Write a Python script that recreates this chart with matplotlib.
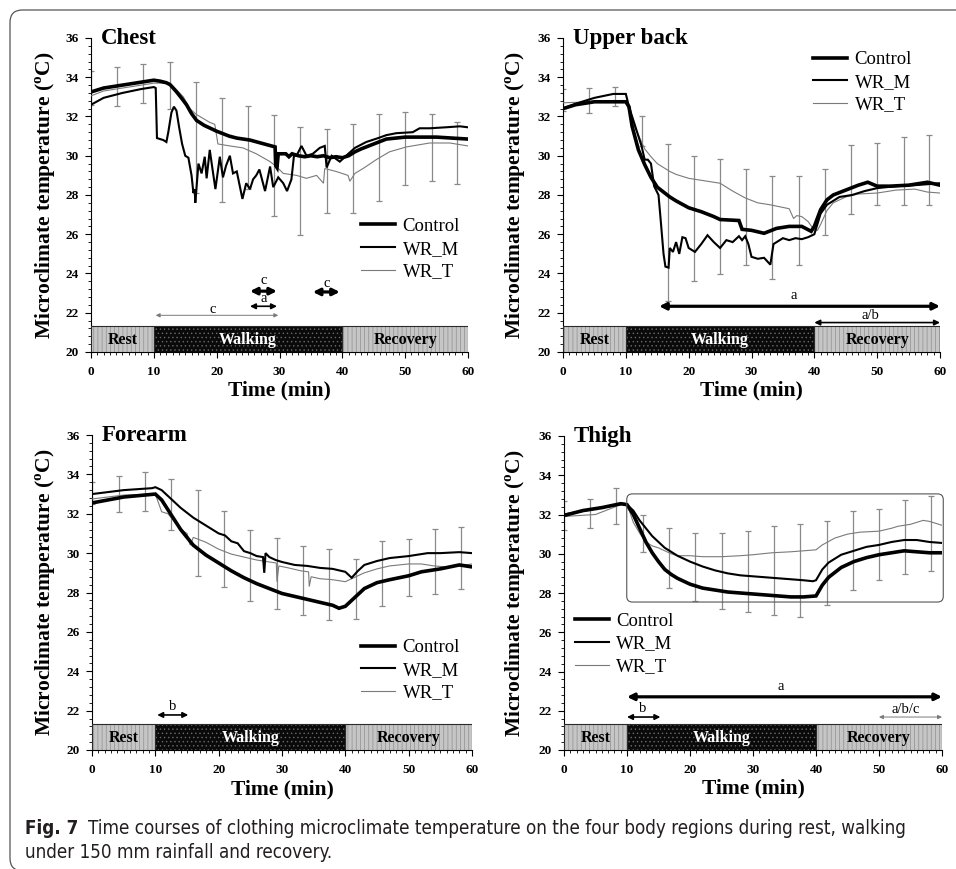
import matplotlib.pyplot as plt
from matplotlib import font_manager
from matplotlib.patches import FancyBboxPatch
from matplotlib.ticker import MultipleLocator

plt.rcParams['font.family'] = ['Liberation Serif', 'DejaVu Serif']
plt.rcParams['mathtext.fontset'] = 'custom'
plt.rcParams['mathtext.rm'] = 'Liberation Serif'
plt.rcParams['mathtext.bf'] = 'Liberation Serif:bold'
plt.rcParams['hatch.linewidth'] = 0.5

# ---------------- data ----------------
groups = ['Control', 'WR_M', 'WR_T']
phases = ['Rest', 'Walking', 'Recovery']
phase_start = [0, 10, 40]
phase_len = [10, 30, 20]

bar_t = [0, 4.2, 8.3, 12.5, 16.7, 20.8, 25, 29.2, 33.3, 37.5, 41.7, 45.8, 50, 54.2, 58.3]

# chest
chest_control = [(0, 33.25), (2, 33.45), (5, 33.6), (8, 33.75), (10, 33.85), (11, 33.8), (12, 33.72),
                 (12.6, 33.62), (13.5, 33.3), (14.5, 32.9), (15.2, 32.6), (16, 32.15), (16.8, 31.8),
                 (18, 31.55), (20, 31.25), (22, 31.0), (23.2, 30.9), (25.3, 30.8), (27, 30.65),
                 (29.3, 30.45), (29.4, 29.5), (29.6, 29.4), (29.8, 30.1), (31, 30.1), (31.5, 29.95),
                 (32, 30.1), (33, 30.0), (34, 29.95), (35, 30.0), (36, 29.95), (37, 30.0), (38, 29.9),
                 (39, 29.95), (40, 29.9), (41, 30.0), (42, 30.2), (43, 30.35), (45, 30.6), (47, 30.85),
                 (50, 30.95), (55, 30.95), (60, 30.85)]
chest_wrm = [(0, 32.6), (2, 32.95), (5, 33.2), (8, 33.4), (10, 33.5), (10.3, 33.45), (10.5, 30.9),
             (11, 30.85), (11.5, 30.8), (12, 30.7), (12.3, 31.2), (12.8, 32.2), (13.2, 32.5), (13.6, 32.3),
             (14, 31.5), (14.5, 30.6), (15, 30.0), (15.5, 29.9), (16, 29.0), (16.3, 28.1), (16.5, 28.3),
             (16.6, 27.6), (17.1, 29.6), (17.6, 29.1), (18.1, 29.95), (18.4, 28.85), (18.9, 30.3),
             (19.3, 29.4), (19.8, 28.3), (20.5, 29.95), (21.0, 28.9), (21.5, 29.5), (22.1, 30.0),
             (22.6, 29.1), (23.2, 29.2), (24.1, 27.8), (24.7, 28.6), (25.3, 28.3), (25.8, 28.8),
             (26.3, 29.0), (26.8, 29.3), (27.7, 28.2), (28.5, 29.45), (29.0, 28.4), (29.8, 28.9),
             (30.6, 28.6), (31.2, 28.2), (31.9, 28.8), (32.3, 30.0), (32.7, 30.0), (33.5, 30.5),
             (34.3, 30.0), (35.3, 30.1), (36.4, 30.4), (37.2, 30.5), (37.5, 29.4), (38.3, 30.0),
             (39.6, 29.7), (40.6, 30.0), (42, 30.4), (43.8, 30.7), (45.7, 30.9), (47, 31.05),
             (48.6, 31.15), (51.2, 31.2), (52.3, 31.4), (53.9, 31.4), (56.5, 31.45), (58.7, 31.5),
             (60, 31.45)]
chest_wrt = [(0, 33.05), (2, 33.3), (5, 33.45), (8, 33.6), (10, 33.7), (12.5, 33.7), (13.5, 33.4),
             (14.7, 33.0), (15.7, 32.4), (16.8, 32.1), (18.9, 31.7), (19.7, 31.6), (20.2, 30.6),
             (22.1, 30.5), (24.2, 30.4), (26.3, 30.1), (28.5, 29.7), (29.5, 29.45), (30.6, 29.1),
             (32.7, 29.0), (34.3, 28.85), (35.9, 29.0), (37, 28.6), (37.2, 29.35), (39, 29.2),
             (40.9, 29.0), (41.2, 28.7), (42, 29.1), (43.3, 29.35), (45.4, 29.8), (47.5, 30.2),
             (50.2, 30.45), (53.9, 30.65), (57.1, 30.65), (60, 30.5)]
chest_hi = [34.3, 34.5, 34.7, 34.8, 33.75, 32.95, 32.55, 32.1, 31.45, 31.35, 31.6, 32.15, 32.25, 32.15, 31.7]
chest_lo = [32.6, 32.55, 32.7, 32.4, 28.1, 27.65, 28.3, 26.95, 25.95, 27.1, 27.1, 27.7, 28.5, 28.7, 28.55]

# upper back
back_control = [(0, 32.4), (2, 32.6), (5, 32.75), (10, 32.75), (10.5, 32.5), (11, 31.5), (12, 30.3),
                (13, 29.55), (14, 28.9), (15, 28.4), (16, 28.15), (17, 27.9), (18, 27.7), (20, 27.35),
                (22, 27.15), (24, 26.9), (25, 26.75), (28, 26.7), (28.5, 26.25), (30, 26.2), (32, 26.05),
                (34, 26.3), (36, 26.4), (38, 26.4), (39.5, 26.15), (40, 26.4), (41, 27.25), (42, 27.75),
                (43, 28.0), (45, 28.25), (47, 28.5), (48.5, 28.65), (50, 28.45), (52, 28.45), (55, 28.5),
                (58, 28.65), (60, 28.5)]
back_wrm = [(0, 32.4), (2, 32.65), (5, 32.95), (8, 33.15), (10, 33.15), (10.5, 32.5), (11.5, 31.5),
            (12.5, 30.5), (13, 29.8), (13.5, 29.8), (14, 29.6), (14.5, 28.45), (15.2, 28.0), (15.5, 26.9),
            (16, 25.0), (16.3, 24.35), (16.8, 24.3), (17, 25.3), (17.5, 25.1), (18, 25.6), (18.5, 25.0),
            (19, 25.85), (19.5, 25.8), (20, 25.3), (21, 25.1), (22, 25.5), (23, 25.95), (24, 25.6),
            (25, 25.3), (26, 25.7), (27, 25.6), (28, 25.9), (28.5, 25.7), (29, 25.9), (29.5, 25.5),
            (30, 24.85), (31, 24.75), (32, 24.8), (33, 24.45), (33.5, 25.5), (34, 25.6), (35, 25.8),
            (36, 25.7), (37, 25.8), (38, 25.75), (39, 25.85), (40, 26.0), (41, 27.05), (42, 27.5),
            (44, 27.9), (46, 28.0), (48, 28.2), (50, 28.35), (53, 28.45), (56, 28.5), (58, 28.55),
            (60, 28.6)]
back_wrt = [(0, 32.7), (5, 32.75), (8, 32.8), (10, 32.8), (11, 31.75), (12, 31.05), (13, 30.35),
            (14, 29.95), (15, 29.6), (16, 29.4), (17, 29.2), (18, 29.05), (20, 28.85), (22, 28.75),
            (25, 28.6), (27, 28.2), (29, 27.85), (31, 27.6), (33, 27.5), (36, 27.3), (36.7, 26.8),
            (37.2, 26.95), (38, 26.9), (39, 26.65), (40, 26.2), (40.5, 26.2), (41, 26.5), (42, 27.2),
            (43, 27.6), (45, 27.9), (47, 28.05), (50, 28.1), (53, 28.25), (56, 28.3), (58, 28.15),
            (60, 28.1)]
back_hi = [33.4, 33.45, 33.48, 32.05, 30.6, 30.0, 29.82, 29.33, 28.97, 28.97, 29.33, 30.55, 30.67, 30.98, 31.06]
back_lo = [32.3, 32.17, 32.54, 30.5, 22.6, 23.6, 23.97, 24.43, 23.74, 24.43, 25.96, 27.03, 27.49, 27.49, 27.49]

# forearm
arm_control = [(0, 32.55), (5, 32.85), (10, 33.0), (11, 32.7), (12, 32.2), (13, 31.7), (14, 31.2),
               (15, 30.8), (16, 30.4), (18, 29.9), (20, 29.5), (22, 29.1), (24, 28.75), (26, 28.45),
               (28, 28.2), (30, 27.95), (32, 27.8), (34, 27.65), (36, 27.5), (38, 27.35), (39, 27.2),
               (40, 27.3), (41, 27.6), (42, 27.9), (43, 28.2), (45, 28.5), (47, 28.65), (50, 28.85),
               (52, 29.05), (55, 29.2), (58, 29.4), (60, 29.3)]
arm_wrm = [(0, 33.0), (5, 33.2), (9.5, 33.3), (10, 33.35), (11, 33.2), (12, 32.9), (13, 32.6), (14, 32.3),
           (15, 32.05), (16, 31.8), (18, 31.4), (20, 31.0), (21, 30.9), (22, 30.6), (23, 30.5), (24, 30.1),
           (25, 30.0), (26, 29.85), (27, 29.8), (27.2, 29.0), (27.4, 30.0), (28, 29.8), (29, 29.65),
           (30, 29.55), (32, 29.4), (34, 29.35), (36, 29.25), (38, 29.2), (40, 29.05), (41, 28.75),
           (42, 29.1), (43, 29.4), (45, 29.6), (47, 29.75), (50, 29.85), (53, 30.0), (55, 30.0),
           (58, 30.05), (60, 30.0)]
arm_wrt = [(0, 32.75), (5, 32.95), (10, 33.0), (11, 32.1), (12, 32.0), (13, 31.6), (14, 31.2), (15, 31.0),
           (15.5, 30.4), (16, 30.8), (18, 30.55), (20, 30.2), (22, 29.95), (24, 29.8), (26, 29.65),
           (28, 29.55), (29.1, 29.5), (29.2, 28.55), (29.5, 29.35), (31, 29.25), (33, 29.1), (34.2, 29.05),
           (34.3, 28.3), (34.6, 28.8), (36, 28.7), (38, 28.65), (40, 28.55), (41, 28.7), (43, 29.0),
           (45, 29.2), (47, 29.35), (50, 29.45), (52, 29.45), (54, 29.35), (56, 29.3), (58, 29.35),
           (60, 29.45)]
arm_hi = [33.63, 33.92, 34.1, 33.75, 33.21, 32.15, 31.15, 30.76, 30.34, 30.22, 29.71, 30.64, 30.71, 31.23, 31.32]
arm_lo = [32.5, 32.11, 32.15, 31.18, 28.85, 28.28, 27.59, 27.16, 26.88, 26.62, 26.66, 27.33, 27.84, 27.92, 28.18]

# thigh
thigh_control = [(0, 31.95), (3, 32.2), (6, 32.35), (9, 32.55), (10, 32.5), (11, 32.0), (12, 31.3),
                 (13, 30.6), (14, 30.05), (15, 29.6), (16, 29.2), (17, 28.95), (18, 28.75), (20, 28.45),
                 (22, 28.25), (24, 28.15), (26, 28.05), (28, 28.0), (30, 27.95), (32, 27.9), (34, 27.85),
                 (36, 27.8), (38, 27.8), (40, 27.85), (41, 28.4), (42, 28.8), (44, 29.3), (46, 29.6),
                 (48, 29.8), (50, 29.95), (52, 30.05), (54, 30.15), (56, 30.1), (58, 30.05), (60, 30.05)]
thigh_wrm = [(0, 32.0), (5, 32.3), (9.5, 32.55), (10, 32.5), (11, 32.2), (12, 31.7), (13, 31.3), (14, 30.9),
             (15, 30.6), (16, 30.3), (18, 29.9), (20, 29.6), (22, 29.35), (24, 29.15), (26, 29.0),
             (28, 28.9), (30, 28.85), (32, 28.8), (34, 28.75), (36, 28.7), (38, 28.65), (39.5, 28.6),
             (40, 28.65), (41, 29.2), (42, 29.55), (44, 29.95), (46, 30.15), (48, 30.35), (50, 30.45),
             (52, 30.6), (54, 30.7), (56, 30.7), (58, 30.6), (60, 30.55)]
thigh_wrt = [(0, 31.9), (5, 32.0), (9, 32.5), (10, 32.55), (11, 31.6), (12, 31.05), (13, 30.6), (14, 30.4),
             (15, 30.3), (16, 30.15), (17, 30.0), (18, 29.9), (20, 29.9), (22, 29.85), (25, 29.85),
             (28, 29.9), (30, 29.95), (33, 30.05), (36, 30.1), (38, 30.15), (40, 30.2), (41, 30.45),
             (43, 30.8), (45, 31.0), (47, 31.1), (50, 31.15), (52, 31.3), (53, 31.4), (55, 31.5),
             (57, 31.7), (58, 31.65), (60, 31.45)]
thigh_hi = [32.7, 32.8, 33.34, 31.95, 31.3, 31.08, 31.08, 31.17, 31.39, 31.5, 31.68, 32.19, 32.27, 32.75, 32.92]
thigh_lo = [31.2, 31.3, 31.5, 30.08, 28.25, 27.58, 27.2, 27.03, 26.86, 26.8, 27.4, 28.17, 28.68, 28.98, 29.1]

# significance arrows: (start, end, y, label, label_x, label_y, weight)
chest_marks = [(25.3, 29.6, 23.1, 'c', 27.5, 23.62, 'thick'),
               (35.3, 39.6, 23.06, 'c', 37.5, 23.5, 'thick'),
               (25.3, 29.6, 22.33, 'a', 27.5, 22.72, 'medium'),
               (10.3, 29.8, 21.87, 'c', 19.3, 22.16, 'thin')]
back_marks = [(15.3, 60, 22.33, 'a', 36.7, 22.9, 'thick'),
              (40, 60, 21.5, 'a/b', 48.9, 21.87, 'medium')]
arm_marks = [(10.3, 15.2, 21.78, 'b', 12.7, 22.23, 'medium')]
thigh_marks = [(10, 60, 22.71, 'a', 34.4, 23.25, 'thick'),
               (10, 15.3, 21.68, 'b', 12.5, 22.1, 'medium'),
               (50, 60, 21.68, 'a/b/c', 54.3, 22.08, 'thin')]

# ---------------- styles ----------------
line_style = {'Control': dict(color='black', lw=2.6, zorder=5),
              'WR_M': dict(color='black', lw=1.5, zorder=4),
              'WR_T': dict(color='#7a7a7a', lw=0.8, zorder=3)}
arrow_style = {'thick': dict(arrowstyle='<|-|>', lw=2.3, color='black', mutation_scale=10),
               'medium': dict(arrowstyle='<|-|>', lw=1.2, color='black', mutation_scale=8),
               'thin': dict(arrowstyle='<|-|>', lw=0.7, color='#7a7a7a', mutation_scale=6)}

fig = plt.figure(figsize=(9.56, 8.69), dpi=100)
W, H = 956, 869


def px_axes(x0, y0, x1, y1):
    return fig.add_axes([x0 / W, 1 - y1 / H, (x1 - x0) / W, (y1 - y0) / H])


def draw_panel(ax, title, series, hi, lo, marks, leg_xy, ylab_x):
    ax.set_xlim(0, 60)
    ax.set_ylim(20, 36)
    for s in ['top', 'right']:
        ax.spines[s].set_visible(False)
    for s in ['left', 'bottom']:
        ax.spines[s].set_linewidth(0.8)

    # error bars
    ax.vlines(bar_t, lo, hi, color='#8a8a8a', lw=0.9, zorder=2)
    ax.plot(bar_t, hi, ls='none', marker='_', ms=5, mew=0.9, color='#8a8a8a', zorder=2)
    ax.plot(bar_t, lo, ls='none', marker='_', ms=5, mew=0.9, color='#8a8a8a', zorder=2)

    handles = []
    for name, pts in zip(groups, series):
        t = [p[0] for p in pts]
        v = [p[1] for p in pts]
        h, = ax.plot(t, v, label=name, solid_joinstyle='miter', **line_style[name])
        handles.append(h)

    # phase bar
    for name, st, ln in zip(phases, phase_start, phase_len):
        if name == 'Walking':
            ax.barh(20.65, ln, left=st, height=1.3, color='#0a0a0a', edgecolor='#6a6a6a',
                    hatch='....', lw=0, zorder=6)
            col = 'white'
        else:
            ax.barh(20.65, ln, left=st, height=1.3, color='#c6c6c6', edgecolor='#8e8e8e',
                    hatch='||||', lw=0, zorder=6)
            col = 'black'
        ax.barh(20.65, ln, left=st, height=1.3, fill=False, edgecolor='#2a2a2a', lw=0.8, zorder=7)
        ax.text(st + ln / 2, 20.6, name, ha='center', va='center', fontsize=11.5,
                fontweight='bold', color=col, zorder=8)

    for x0, x1, y, lab, lx, ly, wgt in marks:
        ax.annotate('', xy=(x1, y), xytext=(x0, y), zorder=6,
                    arrowprops=dict(shrinkA=0, shrinkB=0, **arrow_style[wgt]))
        ax.text(lx, ly, lab, ha='center', va='center', fontsize=10.5)

    ax.text(1.6, 35.7, title, fontsize=16.5, fontweight='bold', ha='left', va='baseline',
            clip_on=False)

    ax.xaxis.set_major_locator(MultipleLocator(10))
    ax.xaxis.set_minor_locator(MultipleLocator(1))
    ax.yaxis.set_major_locator(MultipleLocator(2))
    ax.yaxis.set_minor_locator(MultipleLocator(0.4))
    ax.tick_params(axis='x', which='major', length=4, width=0.8, pad=6)
    ax.tick_params(axis='x', which='minor', length=2.5, width=0.6)
    ax.tick_params(axis='y', which='major', length=4, width=0.8, pad=5)
    ax.tick_params(axis='y', which='minor', length=2.5, width=0.6)
    for lbl in ax.get_xticklabels() + ax.get_yticklabels():
        lbl.set_fontweight('bold')
        lbl.set_fontsize(9.5)

    ax.text(0.5, -0.124, 'Time (min)', transform=ax.transAxes, ha='center', va='center',
            fontsize=15.5, fontweight='bold')
    ax.text(ylab_x, 0.5, r'Microclimate temperature ($^{\mathbf{o}}$C)', transform=ax.transAxes,
            rotation=90, ha='center', va='center', fontsize=15.5, fontweight='bold')

    ax.legend(handles, groups, loc='center left', bbox_to_anchor=leg_xy, frameon=False,
              fontsize=13.5, handlelength=1.8, handletextpad=0.4, labelspacing=0.3,
              borderpad=0, borderaxespad=0)


ax1 = px_axes(91, 38, 468, 352)
draw_panel(ax1, 'Chest', [chest_control, chest_wrm, chest_wrt], chest_hi, chest_lo,
           chest_marks, (0.717, 0.3275), -0.119)
ax2 = px_axes(563, 38, 940, 352)
draw_panel(ax2, 'Upper back', [back_control, back_wrm, back_wrt], back_hi, back_lo,
           back_marks, (0.664, 0.859), -0.125)
ax3 = px_axes(92, 435, 472, 750)
draw_panel(ax3, 'Forearm', [arm_control, arm_wrm, arm_wrt], arm_hi, arm_lo,
           arm_marks, (0.709, 0.253), -0.121)
ax4 = px_axes(564, 436, 942, 750)
draw_panel(ax4, 'Thigh', [thigh_control, thigh_wrm, thigh_wrt], thigh_hi, thigh_lo,
           thigh_marks, (0.029, 0.3375), -0.127)

# rounded box around the walking/recovery part of the thigh panel
aspect = (16 / 314) / (60 / 378)
ax4.add_patch(FancyBboxPatch((9.96, 27.54), 60.2 - 9.96, 33.05 - 27.54,
                             boxstyle='round,pad=0,rounding_size=0.9', mutation_aspect=aspect,
                             fill=False, edgecolor='#555555', lw=0.8, clip_on=False, zorder=6))

# outer frame (only top/left visible)
fig.patches.append(FancyBboxPatch((10 / W, -0.002), 1.05, 1 - 10 / H + 0.002,
                                  boxstyle='round,pad=0,rounding_size=0.013',
                                  mutation_aspect=W / H, transform=fig.transFigure,
                                  fill=False, edgecolor='#555555', lw=0.9))

# caption
avail = {f.name for f in font_manager.fontManager.ttflist}
cap_font = 'Liberation Sans Narrow' if 'Liberation Sans Narrow' in avail else 'DejaVu Sans'
cap_kw = dict(family=cap_font, color='#231f20', va='center', ha='left')
if cap_font == 'DejaVu Sans':
    cap_kw['stretch'] = 'condensed'
line1 = ('Time courses of clothing microclimate temperature on the four body regions during rest, '
         'walking')
line2 = 'under 150 mm rainfall and recovery.'
t1 = fig.text(88 / W, 1 - 828 / H, line1, fontsize=11, **cap_kw)
fig.canvas.draw()
size = 11 * (908 - 88) / t1.get_window_extent().width
t1.set_fontsize(size)
fig.text(25 / W, 1 - 828 / H, 'Fig. 7', fontsize=size, fontweight='bold', **cap_kw)
fig.text(25 / W, 1 - 852 / H, line2, fontsize=size, **cap_kw)

fig.savefig('out.png', dpi=100)
